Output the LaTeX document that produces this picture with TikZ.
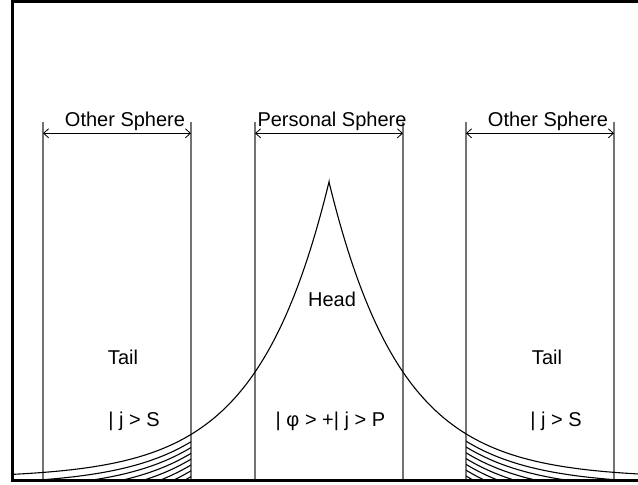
\documentclass[tikz,border=0pt]{standalone}
\usepackage{fontspec}
\setmainfont{Liberation Sans}
\usetikzlibrary{arrows.meta}

\begin{document}
\begin{tikzpicture}[x=0.5pt,y=0.5pt,>={Straight Barb[length=2.5pt,width=4.5pt]},
  sphere/.style={black!55,line width=0.7pt},
  curve/.style={line width=0.55pt},
  lbl/.style={anchor=base,inner sep=0pt,font=\fontsize{10}{12}\selectfont}]
  \useasboundingbox (0,0) rectangle (638,485);
  % sphere boundaries
  \foreach \n/\x in {olA/43,olB/191,psA/255,psB/403,orA/466,orB/614} {
    \coordinate (\n-top) at (\x,363); \coordinate (\n-arr) at (\x,351.7); \coordinate (\n-bot) at (\x,4);
    \draw[sphere] (\n-top) -- (\n-bot);
  }
  \draw[<->,line width=0.4pt] (olA-arr) -- (olB-arr);
  \draw[<->,line width=0.4pt] (psA-arr) -- (psB-arr);
  \draw[<->,line width=0.4pt] (orA-arr) -- (orB-arr);
  \node[lbl] (olname) at (125,358.3) {Other Sphere};
  \node[lbl] (psname) at (332,358.3) {Personal Sphere};
  \node[lbl] (orname) at (548,358.3) {Other Sphere};
  % wave packet
  \draw[curve] plot[domain=12.5:329,samples=120] (\x,{7+296*exp((\x-329)/72)})
    -- plot[domain=329:638,samples=120] (\x,{7+296*exp((329-\x)/72)});
  \begin{scope}
    \clip (12.5,4) rectangle (191,200);
    \foreach \k in {1,...,7}
      \draw[curve] plot[domain=40:191,samples=60] (\x,{5.5-5.8*\k+296*exp((\x-329)/72)});
  \end{scope}
  \begin{scope}
    \clip (466,4) rectangle (638,200);
    \foreach \k in {1,...,7}
      \draw[curve] plot[domain=466:620,samples=60] (\x,{5.5-5.8*\k+296*exp((329-\x)/72)});
  \end{scope}
  \node[lbl] (head) at (332,178) {Head};
  \node[lbl] (tailL) at (123,120) {Tail};
  \node[lbl] (tailR) at (547,120) {Tail};
  \node[lbl] (stL) at (134,58.3) {| j > S};
  \node[lbl] (stP) at (330.5,58.3) {| φ > +| j > P};
  \node[lbl] (stR) at (556,58.3) {| j > S};
  % frame
  \draw[line width=1.5pt] (638,483.7) -- (12.5,483.7) -- (12.5,4) -- (638,4);
\end{tikzpicture}
\end{document}
